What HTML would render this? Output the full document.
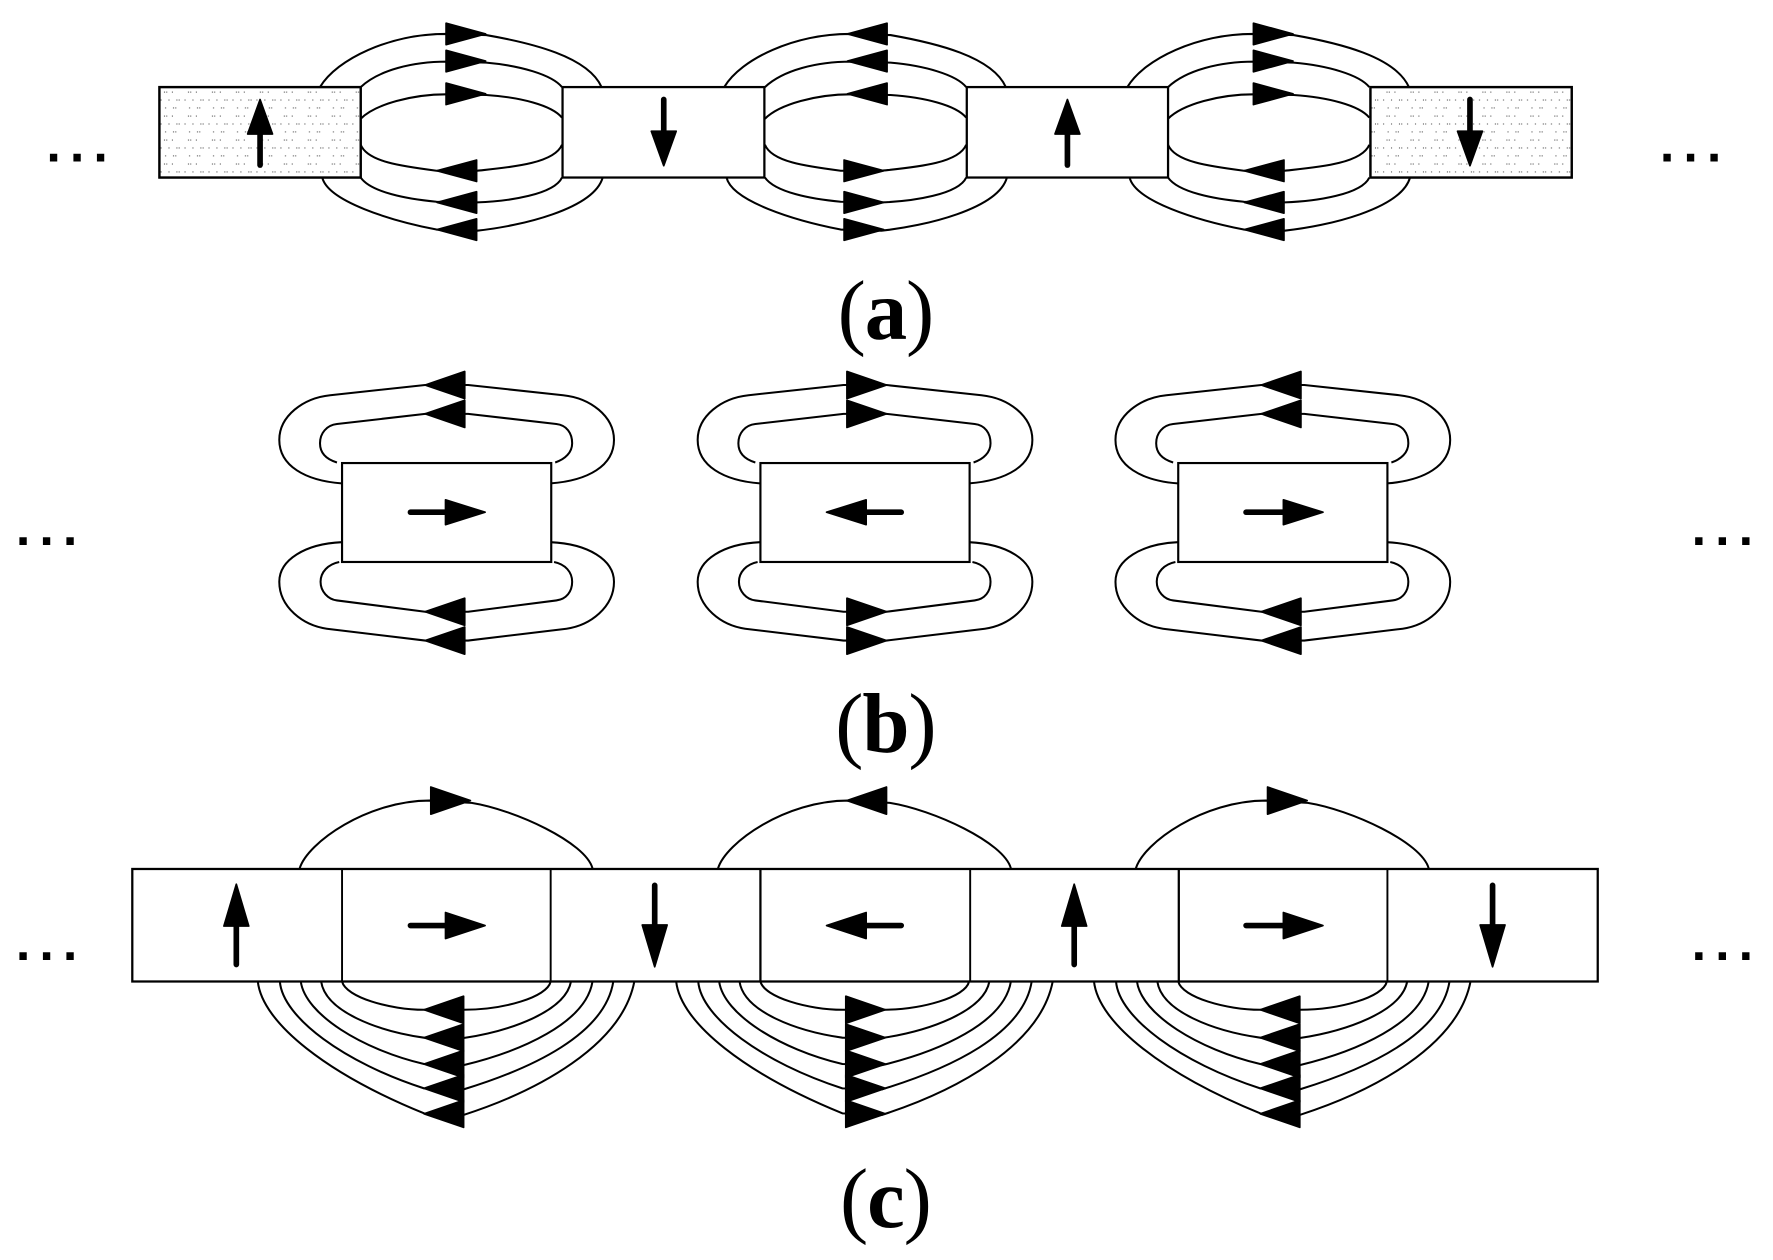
<!DOCTYPE html>
<html><head><meta charset="utf-8"><style>
html,body{margin:0;padding:0;background:#fff}
svg{display:block}
text{fill:#000}
.d{font:bold 46px "Liberation Sans",sans-serif;letter-spacing:8px}
.l{font:75px "Liberation Serif",serif;text-anchor:middle;letter-spacing:-1px}
.l tspan{font-weight:bold}
.c path{fill:none;stroke:#000;stroke-width:1.8;stroke-linejoin:round}
</style></head><body>
<svg xmlns="http://www.w3.org/2000/svg" width="1773" height="1260" viewBox="0 0 1568 1114.3">
<defs>
<pattern id="st" width="21.2" height="21.2" patternUnits="userSpaceOnUse" x="141" y="79">
<g fill="#000" fill-opacity=".75">
<rect x="4" y="2" width=".9" height=".9"/><rect x="6" y="2" width=".9" height=".9"/><rect x="11" y="2" width=".9" height=".9"/>
<rect x="1" y="9" width=".9" height=".9"/><rect x="8" y="9" width=".9" height=".9"/><rect x="15" y="9" width=".9" height=".9"/><rect x="17" y="9" width=".9" height=".9"/>
<rect x="5" y="16" width=".9" height=".9"/><rect x="12" y="16" width=".9" height=".9"/><rect x="14" y="16" width=".9" height=".9"/>
</g></pattern>
<path id="h" d="M-17.5 -9.5 L17.5 0 L-17.5 9.5Z" stroke="#000" stroke-width="1.5" stroke-linejoin="round"/>
<path id="hb" d="M-17 -12 L18 0 L-17 12Z" stroke="#000" stroke-width="1.5" stroke-linejoin="round"/>

<g id="ag" class="c">
<path d="M283 77 C298 52 345 30 394 30 L430 31 C470 38 520 50 532 77"/>
<path d="M319 77 C335 62 365 54.5 395 54.5 L430 55.4 C460 58 488 66 497 77"/>
<path d="M319 105 C332 92 365 83.4 395 83.4 L430 84 C460 86 488 93 497 104"/>
<path d="M319 128 C325 143 355 147 386 151 L422 151 C450 148 490 145 497 128"/>
<path d="M319 157 C328 170 360 176 386 178.4 L422 179 C450 178 490 172 497 157"/>
<path d="M285 157 C290 178 345 195 386 203 L422 204 C460 200 525 185 533 157"/>
</g>

<g id="bg">
<g class="c">
<path d="M302 427.5 C270 425 247 412 247 389 C247 368 268 352 292 349.5 L376 340.5 L414 340.5 L498 349.5 C522 352 543 368 543 389 C543 412 520 425 487 427.5"/>
<path d="M298 409 C288 406 283 400 283 392 C283 383 289 376 298 375 L376 366 L414 366 L492 375 C501 376 506 383 506 392 C506 400 500 406 491 409"/>
<path d="M302 479.5 C270 481 247 495 247 514.5 C247 537 268 553 289 556 L376 566.5 L414 566.5 L501 556 C522 553 543 537 543 514.5 C543 495 520 481 487 479.5"/>
<path d="M300 497 C290 499 283.5 506 283.5 514.5 C283.5 523 290 530 298 531 L376 541 L414 541 L492 531 C501 530 506 523 506 514.5 C506 506 500 499 490 497"/>
</g>
<rect x="302.5" y="409.5" width="185" height="87.5" fill="#fff" stroke="#000" stroke-width="1.9"/>
</g>

<g id="cg" class="c">
<path d="M265 768 C272 745 325 708 380 708 L417 710 C455 716 518 745 524 768"/>
<path d="M302.5 868 C306 882 345 893 375 893 L410 893 C445 893 484 882 487 868"/>
<path d="M284 868 C288 895 335 912 375 917.7 L410 918 C450 912 500 895 505 868"/>
<path d="M266 868 C270 897 320 928 375 941 L410 942 C460 930 518 905 524 868"/>
<path d="M247.5 868 C250 900 305 940 375 962.5 L410 963.4 C470 945 535 915 542.4 868"/>
<path d="M228 868 C232 905 290 950 375 984.6 L410 986 C475 965 550 925 561 868"/>
</g>
</defs>

<rect width="1568" height="1114.3" fill="#fff"/>

<!-- panel a -->
<use href="#ag"/><use href="#ag" x="357.5"/><use href="#ag" x="714"/>
<g stroke="#000" stroke-width="2">
<rect x="141" y="77" width="178" height="80" fill="#fff"/>
<rect x="141" y="77" width="178" height="80" fill="url(#st)"/>
<rect x="497.5" y="77" width="178.5" height="80" fill="#fff"/>
<rect x="855" y="77" width="178" height="80" fill="#fff"/>
<rect x="1212" y="77" width="178" height="80" fill="#fff"/>
<rect x="1212" y="77" width="178" height="80" fill="url(#st)"/>
</g>
<g fill="#000" stroke="#000">
<g id="a-heads">
<use href="#h" transform="translate(412 30)"/><use href="#h" transform="translate(412 54)"/><use href="#h" transform="translate(412 83)"/>
<use href="#h" transform="translate(404 151) scale(-1 1)"/><use href="#h" transform="translate(404 179) scale(-1 1)"/><use href="#h" transform="translate(404 203) scale(-1 1)"/>
<use href="#h" transform="translate(767 30) scale(-1 1)"/><use href="#h" transform="translate(767 54) scale(-1 1)"/><use href="#h" transform="translate(767 83) scale(-1 1)"/>
<use href="#h" transform="translate(764 151)"/><use href="#h" transform="translate(764 179)"/><use href="#h" transform="translate(764 203)"/>
<use href="#h" transform="translate(1126 30)"/><use href="#h" transform="translate(1126 54)"/><use href="#h" transform="translate(1126 83)"/>
<use href="#h" transform="translate(1118 151) scale(-1 1)"/><use href="#h" transform="translate(1118 179) scale(-1 1)"/><use href="#h" transform="translate(1118 203) scale(-1 1)"/>
</g>
</g>
<g stroke="#000" stroke-width="5" fill="#000" stroke-linecap="round">
<path d="M230 146V115"/><path d="M587 88V120"/><path d="M944 146V115"/><path d="M1300 88V120"/>
</g>
<g fill="#000" stroke="#000" stroke-width="1.5" stroke-linejoin="round">
<path d="M230 88 L241 118.5 H219Z"/><path d="M587 146.5 L598 116 H576Z"/><path d="M944 88 L955 118.5 H933Z"/><path d="M1300 146.5 L1311 116 H1289Z"/>
</g>

<!-- panel b -->
<use href="#bg"/><use href="#bg" x="370"/><use href="#bg" x="739.5"/>
<g fill="#000">
<use href="#hb" transform="translate(394 340.5) scale(-1 1)"/><use href="#hb" transform="translate(394 366) scale(-1 1)"/><use href="#hb" transform="translate(394 541) scale(-1 1)"/><use href="#hb" transform="translate(394 566.5) scale(-1 1)"/>
<use href="#hb" transform="translate(766 340.5)"/><use href="#hb" transform="translate(766 366)"/><use href="#hb" transform="translate(766 541)"/><use href="#hb" transform="translate(766 566.5)"/>
<use href="#hb" transform="translate(1133.5 340.5) scale(-1 1)"/><use href="#hb" transform="translate(1133.5 366) scale(-1 1)"/><use href="#hb" transform="translate(1133.5 541) scale(-1 1)"/><use href="#hb" transform="translate(1133.5 566.5) scale(-1 1)"/>
</g>
<g stroke="#000" stroke-width="5" stroke-linecap="round">
<path d="M363 453H398"/><path d="M797 453H762"/><path d="M1102 453H1137"/>
</g>
<g fill="#000" stroke="#000" stroke-width="1.5" stroke-linejoin="round">
<path d="M394 442 L429 453 L394 464Z"/><path d="M766 442 L731 453 L766 464Z"/><path d="M1135 442 L1170 453 L1135 464Z"/>
</g>

<!-- panel c -->
<use href="#cg"/><use href="#cg" x="370"/><use href="#cg" x="739.5"/>
<rect x="117" y="768.5" width="1296" height="99.5" fill="#fff" stroke="#000" stroke-width="2"/>
<g stroke="#000" stroke-width="1.7">
<path d="M302.5 768.5V868M487 768.5V868M858 768.5V868M1227 768.5V868"/>
<path d="M672.5 768.5V868M1042.5 768.5V868" stroke-width="2"/>
</g>
<g fill="#000">
<use href="#hb" transform="translate(393 893) scale(-1 1)"/><use href="#hb" transform="translate(393 917.7) scale(-1 1)"/><use href="#hb" transform="translate(393 941) scale(-1 1)"/><use href="#hb" transform="translate(393 962.5) scale(-1 1)"/><use href="#hb" transform="translate(393 985) scale(-1 1)"/>
<use href="#hb" transform="translate(765 893)"/><use href="#hb" transform="translate(765 917.7)"/><use href="#hb" transform="translate(765 941)"/><use href="#hb" transform="translate(765 962.5)"/><use href="#hb" transform="translate(765 985)"/>
<use href="#hb" transform="translate(1132.5 893) scale(-1 1)"/><use href="#hb" transform="translate(1132.5 917.7) scale(-1 1)"/><use href="#hb" transform="translate(1132.5 941) scale(-1 1)"/><use href="#hb" transform="translate(1132.5 962.5) scale(-1 1)"/><use href="#hb" transform="translate(1132.5 985) scale(-1 1)"/>
<use href="#hb" transform="translate(398 708)"/>
<use href="#hb" transform="translate(767 708) scale(-1 1)"/>
<use href="#hb" transform="translate(1138 708)"/>
</g>
<g stroke="#000" stroke-width="5" stroke-linecap="round">
<path d="M209 853V815"/><path d="M579 783V821"/><path d="M950 853V815"/><path d="M1320 783V821"/>
<path d="M363 818.5H398"/><path d="M797 818.5H762"/><path d="M1102 818.5H1137"/>
</g>
<g fill="#000" stroke="#000" stroke-width="1.5" stroke-linejoin="round">
<path d="M209 782 L220 819 H198Z"/><path d="M579 855 L590 818 H568Z"/><path d="M950 782 L961 819 H939Z"/><path d="M1320 855 L1331 818 H1309Z"/>
<path d="M394 807 L429 818.5 L394 830Z"/><path d="M766 807 L731 818.5 L766 830Z"/><path d="M1135 807 L1170 818.5 L1135 830Z"/>
</g>

<!-- dots -->
<text class="d" x="41" y="143">...</text>
<text class="d" x="1468" y="143">...</text>
<text class="d" x="14" y="482">...</text>
<text class="d" x="1496" y="482">...</text>
<text class="d" x="14" y="849">...</text>
<text class="d" x="1496" y="849">...</text>

<!-- labels -->
<text class="l" x="783" y="300">(<tspan>a</tspan>)</text>
<text class="l" x="783" y="665">(<tspan>b</tspan>)</text>
<text class="l" x="783" y="1085">(<tspan>c</tspan>)</text>
</svg>
</body></html>
